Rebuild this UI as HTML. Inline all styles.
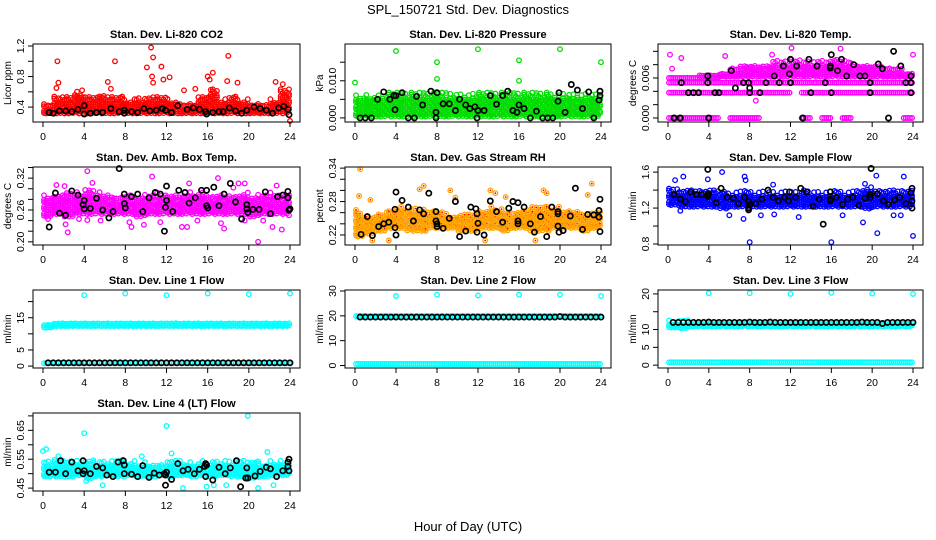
<!DOCTYPE html>
<html><head><meta charset="utf-8"><style>
body{margin:0;background:#fff}
svg{display:block;font-family:"Liberation Sans",Arial,sans-serif}
</style></head><body>
<svg id="c" width="936" height="540" viewBox="0 0 936 540">
<text x="468" y="14" text-anchor="middle" font-size="13">SPL_150721  Std. Dev. Diagnostics</text>
<text x="468" y="531" text-anchor="middle" font-size="13">Hour of Day (UTC)</text>
</svg>
<script>
// ---- data ----
const xTicks=[0,4,8,12,16,20,24];
const halfHours=[0.5,1,1.5,2,2.5,3,3.5,4,4.5,5,5.5,6,6.5,7,7.5,8,8.5,9,9.5,10,10.5,11,11.5,12,12.5,13,13.5,14,14.5,15,15.5,16,16.5,17,17.5,18,18.5,19,19.5,20,20.5,21,21.5,22,22.5,23,23.5,24];
const titles=["Stan. Dev. Li-820 CO2","Stan. Dev. Li-820 Pressure","Stan. Dev. Li-820 Temp.","Stan. Dev. Amb. Box Temp.","Stan. Dev. Gas Stream RH","Stan. Dev. Sample Flow","Stan. Dev. Line 1 Flow","Stan. Dev. Line 2 Flow","Stan. Dev. Line 3 Flow","Stan. Dev. Line 4 (LT) Flow"];
const yTitles=["Licor ppm","kPa","degrees C","degrees C","percent","ml/min","ml/min","ml/min","ml/min","ml/min"];
const yDomains=[[0.205,1.226],[-0.0011,0.0199],[-0.0006,0.0111],[0.194,0.341],[0.202,0.342],[0.789,1.657],[-0.6,23.6],[-1,30.4],[-0.8,21.1],[0.44,0.71]];
const yTicks=[[0.4,0.6,0.8,1.0,1.2],[0,0.005,0.01,0.015],[0,0.002,0.004,0.006,0.008,0.01],[0.2,0.22,0.24,0.26,0.28,0.3,0.32,0.34],[0.22,0.24,0.26,0.28,0.3,0.32,0.34],[0.8,1.0,1.2,1.4,1.6],[0,5,10,15,20],[0,10,20,30],[0,5,10,15,20],[0.45,0.5,0.55,0.6,0.65,0.7]];
const yLabels=[["0.4","0.8","1.2"],["0.000","0.010"],["0.000","0.006"],["0.20","0.26","0.32"],["0.22","0.28","0.34"],["0.8","1.2","1.6"],["0","5","15"],["0","10","20","30"],["0","5","10","20"],["0.45","0.55","0.65"]];
const seriesColors=["#ff0000","#00dd00","#ff00ff","#ff00ff","#ffa500","#0000ff","#00ffff","#00ffff","#00ffff","#00ffff"];

const co2Lo=[0.3,0.3,0.3,0.3,0.3,0.3,0.3,0.3,0.3,0.3,0.3,0.3,0.3,0.3,0.3,0.3,0.3,0.3,0.3,0.3,0.3,0.3,0.3,0.3];
const co2Hi=[0.45,0.55,0.55,0.6,0.55,0.58,0.55,0.55,0.5,0.52,0.55,0.55,0.5,0.45,0.45,0.55,0.65,0.5,0.55,0.5,0.45,0.45,0.5,0.65];
const co2Out=[[1.4,1.0],[1.5,0.72],[1.3,0.65],[7,1.0],[6.3,0.73],[6.6,0.64],[10.1,0.92],[10.5,1.18],[10.7,1.05],[10.6,0.8],[10.7,0.72],[11.5,0.93],[11.7,0.76],[12.3,0.79],[13.7,0.62],[16.5,0.85],[16.2,0.76],[16,0.8],[18,1.07],[17.9,0.74],[18.9,0.72],[22.6,0.73],[23.3,0.7],[24,0.22],[3.8,0.62],[14.8,0.64]];
const co2Blk=[[0.6,.33],[1,.32],[1.6,.35],[2.2,.35],[2.8,.34],[3.4,.37],[4,.42],[4,.31],[4.6,.32],[5.2,.33],[5.8,.33],[6.6,.38],[7.4,.34],[7.9,.36],[7.9,.32],[8.6,.34],[9.2,.33],[9.8,.38],[10.4,.35],[11,.36],[11.6,.38],[11.9,.36],[12.5,.33],[13.1,.42],[14,.37],[14.6,.39],[15.2,.37],[15.8,.34],[15.9,.31],[16.5,.33],[17.1,.34],[17.5,.34],[18.1,.39],[18.7,.35],[19.3,.32],[19.8,.36],[20.5,.4],[21.1,.38],[21.7,.36],[22.3,.32],[22.9,.39],[23.4,.41],[23.8,.37],[23.9,.3]];

const presLo=[0,0,0,0,0,0,0,0,0,0,0,0,0,0,0,0,0,0,0,0,0,0,0,0];
const presHi=[0.006,0.006,0.006,0.007,0.007,0.007,0.007,0.007,0.007,0.0065,0.0065,0.0065,0.007,0.007,0.007,0.007,0.007,0.007,0.007,0.0065,0.0065,0.0065,0.0065,0.0065];
const presOut=[[0,0.0095],[4,0.018],[8,0.015],[8,0.0105],[12,0.0185],[16,0.0155],[16,0.01],[20,0.0185],[24,0.015]];
const presBlk=[[0.5,0],[1,0],[1.6,0],[2.2,0.005],[2.8,0.007],[3.4,0.005],[3.8,0.006],[3.9,0.0022],[4,0.006],[4.6,0.0068],[5.2,0],[5.8,0],[6,0.0058],[6.6,0.0035],[7.4,0.0072],[7.9,0.0015],[7.9,0],[8,0.0068],[8.6,0.0038],[9.2,0.0038],[9.8,0.002],[10.2,0.005],[10.8,0.0035],[11.2,0.0025],[11.7,0.003],[11.9,0],[12,0.002],[12.6,0.002],[13.2,0.006],[13.8,0.0037],[14.4,0.006],[14.9,0.0072],[15.4,0.002],[15.8,0.0015],[16,0.0035],[16.5,0.0025],[17.1,0],[17.7,0.0018],[18.3,0],[18.8,0],[19.3,0],[19.8,0.0045],[19.9,0.0068],[20.5,0.0015],[21.1,0.009],[21.7,0.0075],[22.2,0.0025],[22.8,0.007],[23.3,0],[23.8,0.0048],[23.9,0.0072],[23.9,0.006]];

const tempLo=[0.0058,0.0058,0.0058,0.0058,0.0058,0.006,0.006,0.006,0.006,0.006,0.006,0.006,0.006,0.006,0.006,0.006,0.006,0.006,0.006,0.006,0.006,0.006,0.006,0.006];
const tempHi=[0.006,0.006,0.006,0.0065,0.0065,0.007,0.0075,0.008,0.008,0.008,0.0085,0.0085,0.009,0.0085,0.0085,0.0085,0.009,0.0085,0.008,0.008,0.008,0.0075,0.0075,0.007];
const tempRowA=[0.0053,0.0053,0.0053,0.0053,0.0053,0.0053,0.0053,0.0053,0.0053,0.0053,0.0053,0.0053,0.0053,0.0053,0.0053,0.0053,0.0053,0.0053,0.0053,0.0053,0.0053,0.0053,0.0053,0.0053];
const tempRowB=[0.0038,0.0038,0.0038,0.0038,0.0038,0.0038,0.0038,0.0038,0.0038,0.0038,0.0038,0.0038,null,0.0038,0.0038,0.0038,0.0038,0.0038,0.0038,0.0038,0.0038,0.0038,0.0038,0.0038];
const tempRowZ=[0,0,0,0,0,null,0,0,0,null,null,null,null,0,null,0,null,0,null,null,null,null,null,0];
const tempOut=[[0.2,0.0095],[0.4,0.0074],[1.3,0.009],[8.6,0.0026],[12.1,0.0105],[16.9,0.0104],[5.6,0.0093],[24,0.0095],[10.2,0.0095]];
const tempBlk=[[0.6,0],[1.2,0],[1.3,0.0053],[2,0.0038],[2.5,0.0038],[3,0.0038],[3.9,0.0063],[3.9,0.0053],[4,0],[4.6,0.0038],[5,0.0038],[6.2,0.0071],[6.6,0.0045],[7.4,0.0053],[7.9,0.0053],[8,0.0045],[8,0.0038],[9,0.0038],[9.6,0.0053],[10.4,0.0063],[10.9,0.0053],[11.3,0.0078],[11.9,0.0066],[12,0.0088],[12,0.0053],[12.6,0.0078],[13.2,0],[13.8,0.0088],[14,0.0038],[14.6,0.0078],[15.4,0.0053],[15.9,0.0078],[15.9,0.0075],[16,0.0095],[16,0.0038],[16.6,0.0071],[17,0.0088],[17.5,0.0063],[18.2,0.008],[18.8,0.0063],[19.3,0.0063],[19.8,0.0053],[19.8,0.0038],[20.6,0.0081],[21,0.0074],[21.6,0],[22.1,0.01],[22.8,0.0078],[23.3,0.0053],[23.8,0.0063],[23.8,0.0053],[23.8,0.0038]];

const ambLo=[0.245,0.25,0.245,0.25,0.25,0.25,0.25,0.25,0.25,0.245,0.25,0.25,0.25,0.25,0.25,0.25,0.25,0.25,0.25,0.25,0.245,0.25,0.25,0.25];
const ambHi=[0.29,0.29,0.295,0.295,0.3,0.295,0.29,0.285,0.29,0.29,0.29,0.295,0.29,0.29,0.295,0.295,0.29,0.29,0.29,0.295,0.29,0.29,0.295,0.29];
const ambOut=[[0.5,0.243],[1.3,0.307],[2.2,0.233],[2.4,0.218],[2.1,0.305],[3.5,0.243],[4.3,0.333],[4.8,0.311],[4.3,0.241],[5.6,0.24],[8.4,0.237],[8.6,0.228],[9.8,0.232],[10.6,0.323],[11.4,0.237],[13.5,0.228],[14,0.228],[14.2,0.31],[15,0.24],[17,0.32],[17.3,0.235],[17.6,0.225],[18.5,0.302],[19,0.31],[19.6,0.31],[19.6,0.24],[20.9,0.2],[21.4,0.24],[22.3,0.228],[22.7,0.306],[23.2,0.223],[23.9,0.25]];
const ambBlk=[[0.6,0.228],[1.2,0.292],[1.6,0.254],[2.2,0.25],[2.8,0.296],[3.4,0.288],[3.9,0.27],[4,0.278],[4,0.262],[4.6,0.263],[5.2,0.282],[5.8,0.26],[6.4,0.245],[6.8,0.257],[7.4,0.338],[7.9,0.29],[7.9,0.272],[8,0.264],[8.6,0.285],[9.2,0.29],[9.7,0.257],[10.3,0.283],[10.9,0.293],[11.4,0.29],[11.8,0.22],[11.9,0.265],[12,0.278],[12,0.305],[12.6,0.257],[13.2,0.297],[13.8,0.293],[14.2,0.273],[14.8,0.283],[15.4,0.297],[15.9,0.297],[15.9,0.268],[16,0.264],[16.6,0.303],[17.1,0.268],[17.6,0.29],[18.2,0.31],[18.7,0.275],[19.3,0.243],[19.8,0.27],[19.8,0.262],[19.9,0.255],[20.4,0.261],[21,0.261],[21.6,0.294],[22.1,0.253],[22.8,0.285],[23.3,0.288],[23.8,0.295],[23.8,0.283],[23.9,0.26],[24,0.262]];

const rhLo=[0.215,0.22,0.225,0.23,0.23,0.225,0.225,0.23,0.23,0.23,0.225,0.225,0.23,0.23,0.225,0.23,0.23,0.225,0.225,0.23,0.23,0.23,0.225,0.23];
const rhHi=[0.26,0.255,0.26,0.265,0.27,0.27,0.265,0.265,0.26,0.255,0.26,0.26,0.265,0.27,0.265,0.26,0.265,0.27,0.275,0.27,0.265,0.265,0.26,0.26];
const rhOut=[[0.5,0.338],[0.4,0.29],[1.5,0.283],[1.7,0.21],[3.3,0.21],[6.3,0.302],[6.7,0.308],[9.3,0.3],[9.8,0.287],[12.7,0.21],[13.2,0.3],[13.7,0.295],[14.7,0.288],[17.6,0.21],[18.4,0.3],[18.7,0.295],[22.7,0.292],[23.1,0.312],[0.1,0.265]];
const rhBlk=[[0.6,0.221],[1.2,0.253],[1.7,0.219],[2.3,0.235],[2.8,0.24],[3.3,0.243],[3.9,0.266],[3.9,0.233],[4,0.22],[4,0.297],[4.6,0.282],[5.2,0.27],[5.7,0.245],[6.3,0.265],[6.7,0.258],[7.2,0.295],[7.9,0.262],[7.9,0.245],[8,0.24],[8,0.235],[8.6,0.232],[9.2,0.25],[9.8,0.28],[10.2,0.217],[10.8,0.227],[11.3,0.27],[11.8,0.267],[11.9,0.258],[12,0.241],[11.9,0.225],[12.6,0.22],[13.2,0.281],[13.8,0.262],[14.4,0.243],[15,0.268],[15.4,0.28],[15.9,0.278],[15.9,0.245],[15.9,0.24],[16.5,0.27],[17.1,0.24],[17.5,0.225],[18.1,0.253],[18.7,0.217],[19.2,0.27],[19.8,0.262],[19.8,0.258],[19.8,0.236],[19.9,0.225],[20.3,0.228],[21,0.254],[21.5,0.304],[22.2,0.23],[22.7,0.257],[23.3,0.256],[23.8,0.252],[23.8,0.264],[23.9,0.284],[23.9,0.226]];

const flowLo=[1.22,1.2,1.2,1.2,1.2,1.18,1.2,1.2,1.2,1.2,1.2,1.2,1.2,1.2,1.2,1.2,1.2,1.2,1.2,1.18,1.2,1.2,1.2,1.2];
const flowHi=[1.42,1.4,1.4,1.4,1.42,1.4,1.38,1.4,1.38,1.38,1.38,1.38,1.38,1.4,1.38,1.38,1.4,1.38,1.4,1.44,1.4,1.4,1.4,1.4];
const flowOut=[[0.7,1.51],[1.5,1.55],[1.2,1.17],[3.9,1.52],[5.3,1.6],[6,1.12],[7.4,1.08],[7.5,1.55],[7.6,1.51],[8,0.82],[9.1,1.12],[10.3,1.46],[10.4,1.13],[12.8,1.1],[16,0.82],[17.1,1.12],[19.1,1.04],[19.3,1.47],[20.4,1.56],[20.5,0.92],[22.1,1.12],[22.8,1.12],[23.1,1.55],[24,0.89]];
const flowBlk=[[0.6,1.35],[1.2,1.3],[1.7,1.27],[2.2,1.38],[2.8,1.35],[3.3,1.35],[3.9,1.35],[3.9,1.33],[4,1.36],[3.9,1.63],[4.7,1.26],[5.2,1.42],[5.8,1.32],[6.4,1.31],[6.9,1.25],[7.5,1.32],[7.9,1.2],[8,1.24],[7.9,1.18],[7.9,1.27],[8.6,1.25],[9.2,1.3],[9.8,1.4],[10.3,1.32],[10.8,1.28],[11.4,1.32],[11.8,1.28],[11.9,1.38],[12.5,1.32],[13,1.42],[13.6,1.38],[14.2,1.22],[14.8,1.3],[15.2,1.02],[15.9,1.38],[15.9,1.3],[15.9,1.28],[16.5,1.32],[17.1,1.24],[17.6,1.3],[18.1,1.32],[18.7,1.23],[19.3,1.31],[19.8,1.32],[19.8,1.35],[19.9,1.64],[20.5,1.36],[21.1,1.28],[21.6,1.24],[22.2,1.29],[22.7,1.32],[23.3,1.25],[23.8,1.37],[23.9,1.28],[23.9,1.2],[23.9,1.42]];

const line1Lo=[11.5,12,12,12,12,12,12,12,12,12,12,12,12,12,12,12,12,12,12,12,12,12,12,12];
const line1Hi=[13.5,13.5,13.5,13.5,13.5,13.5,13.5,13.5,13.5,13.5,13.5,13.5,13.8,13.5,13.5,13.5,13.5,13.5,13.5,13.5,13.5,13.5,13.5,13.5];
const line1Row=[0.9,0.9,0.9,0.9,0.9,0.9,0.9,0.9,0.9,0.9,0.9,0.9,0.9,0.9,0.9,0.9,0.9,0.9,0.9,0.9,0.9,0.9,0.9,0.9];
const line1Out=[[4,22],[8,22.5],[12,22],[16,22.5],[20,22.3],[24,22.5]];
const line1BlkY=[1,1,1,1,1,1,1,1,1,1,1,1,1,1,1,1,1,1,1,1,1,1,1,1,1,1,1,1,1,1,1,1,1,1,1,1,1,1,1,1,1,1,1,1,1,1,1,1];

const line2Lo=[19.3,19.3,19.3,19.3,19.3,19.3,19.3,19.3,19.3,19.3,19.3,19.3,19.3,19.3,19.3,19.3,19.3,19.3,19.3,19.3,19.3,19.3,19.3,19.3];
const line2Hi=[20.3,19.8,19.8,19.8,19.8,19.8,19.8,19.8,19.8,19.8,19.8,19.8,19.8,19.8,19.8,19.8,19.8,19.8,19.8,19.8,19.8,19.8,19.8,19.8];
const line2Row=[0.6,0.6,0.6,0.6,0.6,0.6,0.6,0.6,0.6,0.6,0.6,0.6,0.6,0.6,0.6,0.6,0.6,0.6,0.6,0.6,0.6,0.6,0.6,0.6];
const line2Out=[[4,28],[8,28.5],[12,28.2],[16,28.5],[20,28.5],[24,28]];
const line2BlkY=[19.5,19.5,19.5,19.5,19.5,19.5,19.5,19.5,19.5,19.5,19.5,19.5,19.5,19.5,19.5,19.5,19.5,19.5,19.5,19.5,19.5,19.5,19.5,19.5,19.5,19.5,19.5,19.5,19.5,19.5,19.5,19.5,19.5,19.5,19.5,19.5,19.5,19.5,19.5,19.7,19.5,19.5,19.5,19.5,19.5,19.5,19.5,19.5];

const line3Lo=[10.2,10,10.5,10.5,10.5,10.5,10.5,10.5,10.5,10.5,10.5,10.5,10.5,10.5,10.5,10.5,10.5,10.5,10.5,10.5,10.5,10.5,10.5,10.5];
const line3Hi=[12.3,12.3,12.3,12.3,12.3,12.3,12.3,12.5,12.3,12.3,12.3,12.3,12.3,12.3,12.3,12.3,12.3,12.3,12.3,12.3,12.3,12.3,12.3,12.3];
const line3Row=[0.8,0.8,0.8,0.8,0.8,0.8,0.8,0.8,0.8,0.8,0.8,0.8,0.8,0.8,0.8,0.8,0.8,0.8,0.8,0.8,0.8,0.8,0.8,0.8];
const line3Out=[[4,20.2],[8,20.2],[12,20],[16,20.3],[20,20.1],[24,20]];
const line3BlkY=[12,12,12,12,12,12,12,12.1,12,12,12,12,12,12,12,12.1,12,12,12,12.1,12,12,12,12,12,12,12,12,12,12,12,12,12,12,12,12,12,12.1,12,12,12,11.7,12,12,12,12,12,12];

const line4Lo=[0.485,0.485,0.485,0.49,0.48,0.485,0.49,0.485,0.49,0.485,0.485,0.49,0.485,0.49,0.485,0.49,0.485,0.49,0.485,0.485,0.48,0.485,0.49,0.49];
const line4Hi=[0.545,0.55,0.545,0.545,0.55,0.545,0.545,0.55,0.545,0.54,0.54,0.535,0.545,0.545,0.54,0.545,0.545,0.545,0.545,0.545,0.545,0.54,0.545,0.545];
const line4Out=[[0,0.578],[0.3,0.585],[4,0.64],[4.2,0.475],[5.8,0.46],[9.6,0.56],[12,0.665],[12.5,0.57],[13.6,0.45],[15.9,0.455],[16.6,0.46],[17.8,0.46],[19.9,0.7],[20.9,0.45],[21.8,0.575],[22.4,0.46],[1.5,0.56]];
const line4Blk=[[0.6,0.505],[1.2,0.505],[1.7,0.545],[2.2,0.5],[2.8,0.54],[3.4,0.51],[3.9,0.5],[4,0.51],[3.9,0.545],[4.6,0.5],[5.2,0.525],[5.8,0.52],[6.2,0.495],[6.8,0.49],[7.3,0.54],[7.8,0.545],[7.9,0.53],[7.9,0.5],[8.6,0.498],[9.2,0.49],[9.7,0.528],[10.3,0.487],[10.8,0.502],[11.3,0.495],[11.8,0.5],[11.9,0.495],[11.9,0.46],[12,0.505],[12.5,0.48],[13.1,0.535],[13.6,0.51],[14.1,0.515],[14.7,0.5],[15.2,0.515],[15.7,0.525],[15.8,0.535],[15.8,0.49],[15.9,0.53],[16.5,0.478],[17.1,0.522],[17.7,0.5],[18.2,0.52],[18.8,0.545],[19.2,0.455],[19.7,0.485],[19.8,0.52],[19.9,0.485],[20.6,0.492],[21.1,0.508],[21.7,0.522],[22.1,0.517],[22.7,0.49],[23.3,0.51],[23.8,0.54],[23.8,0.525],[23.9,0.55],[23.9,0.51]];

// ---- rendering ----
const NS="http://www.w3.org/2000/svg";
const svg=document.getElementById('c');
function mk(tag,attrs,parent){const e=document.createElementNS(NS,tag);for(const k in attrs)e.setAttribute(k,attrs[k]);(parent||svg).appendChild(e);return e;}
const colX0=[43,355,668], colX24=[290,601,913], rowTop=[44,167,290,413], boxH=78;
// cosmetic edge raggedness pattern (fractions of band height), purely visual
const ragTop=[0,0.35,0.1,0.5,0.2,0,0.4,0.15,0.3,0.05,0.45];
const ragBot=[0.1,0,0.25,0.05,0.3,0.15,0,0.2,0.05,0.35,0];

function pair(a,b){return a.map((v,i)=>[v,b[i]]);}
const panels=[
 {bands:[[co2Lo,co2Hi]],out:co2Out,blk:co2Blk},
 {bands:[[presLo,presHi]],out:presOut,blk:presBlk},
 {bands:[[tempLo,tempHi],[tempRowA,tempRowA],[tempRowB,tempRowB],[tempRowZ,tempRowZ]],out:tempOut,blk:tempBlk},
 {bands:[[ambLo,ambHi]],out:ambOut,blk:ambBlk},
 {bands:[[rhLo,rhHi]],out:rhOut,blk:rhBlk},
 {bands:[[flowLo,flowHi]],out:flowOut,blk:flowBlk},
 {bands:[[line1Lo,line1Hi],[line1Row,line1Row]],out:line1Out,blk:pair(halfHours,line1BlkY)},
 {bands:[[line2Lo,line2Hi],[line2Row,line2Row]],out:line2Out,blk:pair(halfHours,line2BlkY)},
 {bands:[[line3Lo,line3Hi],[line3Row,line3Row]],out:line3Out,blk:pair(halfHours,line3BlkY)},
 {bands:[[line4Lo,line4Hi]],out:line4Out,blk:line4Blk}
];

panels.forEach((p,i)=>{
  const col=i%3,row=Math.floor(i/3);
  const x0=colX0[col],x24=colX24[col],top=rowTop[row],bot=top+boxH;
  const left=x0-10,right=x24+10;
  const [ylo,yhi]=yDomains[i];
  const sx=v=>x0+(x24-x0)*v/24;
  const sy=v=>bot-(v-ylo)/(yhi-ylo)*boxH;
  const g=mk('g',{});
  
  
  const col1=seriesColors[i];
  const pts=mk('g',{fill:'none',stroke:col1,'stroke-width':1.3},g);
  
  
  const dot=(x,y,parent)=>{mk('circle',{cx:x.toFixed(1),cy:y.toFixed(1),r:2.3},parent);
    if(i===4){mk('circle',{cx:x.toFixed(1),cy:y.toFixed(1),r:0.9,fill:'#ff0000',stroke:'none'},parent);}
  };
  let j=0;
  p.bands.forEach(([lo,hi])=>{
    for(let h=0;h<24;h++){
      if(lo[h]==null||hi[h]==null)continue;
      const ya=sy(lo[h]),yb=sy(hi[h]);
      for(let t=h;t<h+1-1e-9;t+=0.2){
        const px=sx(Math.min(24,t+0.1));
        if(Math.abs(ya-yb)<1){dot(px,ya,pts);continue;}
        const hpx=ya-yb;
        const a=ya-ragBot[j%ragBot.length]*hpx*0.4, b=yb+ragTop[j%ragTop.length]*hpx*0.5;
        j++;
        let k=0;
        for(let y=a;y>=b;y-=3.4){dot(px,y-((k++%2)?0:1.3),pts);}
      }
    }
  });
  p.out.forEach(([x,y])=>dot(sx(x),sy(y),pts));
  const bg=mk('g',{fill:'none',stroke:'#000','stroke-width':1.7},g);
  
  
  p.blk.forEach(([x,y])=>mk('circle',{cx:sx(x).toFixed(1),cy:sy(y).toFixed(1),r:2.6},bg));
  const b=mk('rect',{x:left,y:top,width:right-left,height:boxH,fill:'none',stroke:'#000','stroke-width':1},g);
  
  
  const xa=mk('g',{},g);
  
  
  mk('line',{x1:sx(0),x2:sx(24),y1:bot,y2:bot,stroke:'#000'},xa);
  xTicks.forEach(t=>{mk('line',{x1:sx(t),x2:sx(t),y1:bot,y2:bot+5,stroke:'#000'},xa);
    const tx=mk('text',{x:sx(t),y:bot+18,'text-anchor':'middle','font-size':10.5},xa);tx.textContent=t;});
  const ya=mk('g',{},g);
  
  
  const yt=yTicks[i];
  mk('line',{x1:left,x2:left,y1:sy(yt[0]),y2:sy(yt[yt.length-1]),stroke:'#000'},ya);
  yt.forEach(t=>mk('line',{x1:left-5,x2:left,y1:sy(t),y2:sy(t),stroke:'#000'},ya));
  yLabels[i].forEach(l=>{const y=sy(parseFloat(l));
    const tx=mk('text',{x:0,y:0,'text-anchor':'middle','font-size':10.5,transform:`translate(${left-9},${y}) rotate(-90)`},ya);tx.textContent=l;});
  const ytl=mk('text',{'text-anchor':'middle','font-size':10,transform:`translate(${left-22},${(top+bot)/2}) rotate(-90)`},g);
  ytl.textContent=yTitles[i];
  
  
  const tt=mk('text',{x:(left+right)/2,y:top-6,'text-anchor':'middle','font-size':11,'font-weight':'bold'},g);
  tt.textContent=titles[i];
  
  
});
</script>
</body></html>
